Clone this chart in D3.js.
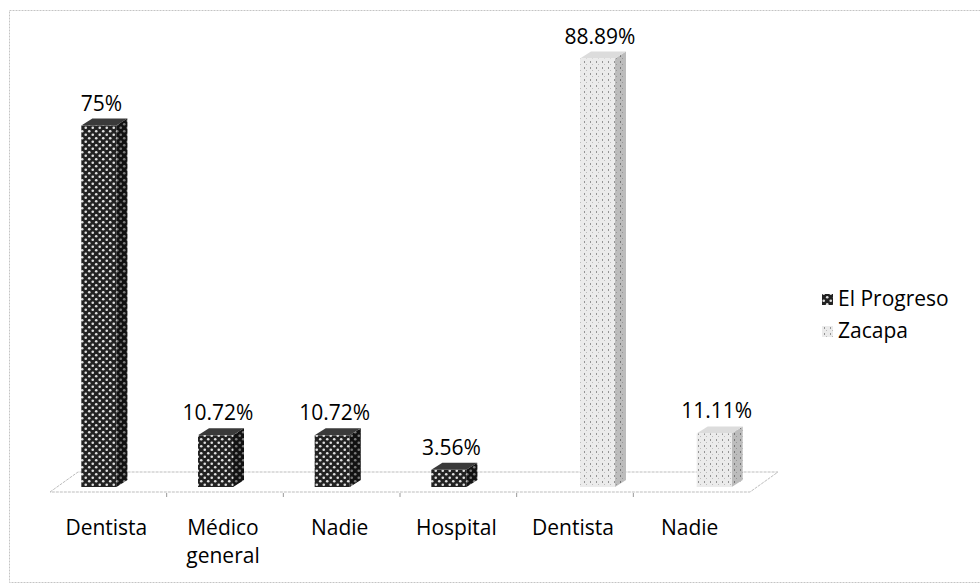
<!DOCTYPE html>
<html>
<head>
<meta charset="utf-8">
<script src="https://cdn.jsdelivr.net/npm/d3@7"></script>
<style>
  body { margin: 0; background: #fff; }
  text { font-family: "Open Sans", sans-serif; fill: #000; }
</style>
</head>
<body>
<script>
// data
const categories = ["Dentista", "Médico general", "Nadie", "Hospital", "Dentista", "Nadie"];
const seriesOf = ["El Progreso", "El Progreso", "El Progreso", "El Progreso", "Zacapa", "Zacapa"];
const values = [75, 10.72, 10.72, 3.56, 88.89, 11.11];
const seriesNames = ["El Progreso", "Zacapa"];

const width = 980, height = 586;
const depth = { dx: 11, dy: -7 };      // bar depth
const floorDepth = { dx: 28, dy: -20 }; // floor depth

const svg = d3.select("body").append("svg")
  .attr("width", width)
  .attr("height", height);

const defs = svg.append("defs");

// dark dotted pattern
const p1 = defs.append("pattern").attr("id", "pat-prog")
  .attr("patternUnits", "userSpaceOnUse").attr("width", 7).attr("height", 7);
p1.append("rect").attr("width", 7).attr("height", 7).attr("fill", "#222");
p1.append("circle").attr("cx", 1.75).attr("cy", 1.75).attr("r", 1.3).attr("fill", "#e0e0e0");
p1.append("circle").attr("cx", 5.25).attr("cy", 5.25).attr("r", 1.3).attr("fill", "#e0e0e0");

// light dashed pattern
const p2 = defs.append("pattern").attr("id", "pat-zac")
  .attr("patternUnits", "userSpaceOnUse").attr("width", 6).attr("height", 6);
p2.append("rect").attr("width", 6).attr("height", 6).attr("fill", "#ebebeb");
p2.append("rect").attr("x", 2).attr("y", 1).attr("width", 1).attr("height", 2).attr("fill", "#949494");
p2.append("rect").attr("x", 4).attr("y", 4).attr("width", 1).attr("height", 1).attr("fill", "#bcbcbc");

const fills = {
  "El Progreso": { front: "url(#pat-prog)", shade: "rgba(0,0,0,0.45)", top: "#3a3a3a" },
  "Zacapa": { front: "url(#pat-zac)", shade: "rgba(0,0,0,0.2)", top: "#dcdcdc" }
};

// chart border
svg.append("rect")
  .attr("x", 9.5).attr("y", 10.5)
  .attr("width", 985).attr("height", 572)
  .attr("fill", "none")
  .attr("stroke", "#c4c4c4")
  .attr("stroke-dasharray", "2,1");

const x = d3.scaleBand()
  .domain(d3.range(categories.length))
  .range([50, 750])
  .padding(0);

const y = d3.scaleLinear()
  .domain([0, 100])
  .range([487, 5]);

// series offset from the category centre
const xSeries = d3.scaleOrdinal().domain(seriesNames).range([-4, 28]);
const barW = 35;

// floor
const fl = x.range()[0], fr = x.range()[1], fy = 492;
const floor = svg.append("g").attr("stroke", "#bdbdbd").attr("fill", "none");
floor.append("path")
  .attr("d", `M${fl},${fy}L${fl + floorDepth.dx},${fy + floorDepth.dy}L${fr + floorDepth.dx},${fy + floorDepth.dy}L${fr},${fy}Z`)
  .attr("fill", "#fff")
  .attr("stroke-dasharray", "3,1");

// tick marks on the front edge
floor.selectAll("line.tick")
  .data(d3.range(1, categories.length))
  .join("line")
  .attr("class", "tick")
  .attr("x1", (d) => x(d)).attr("x2", (d) => x(d))
  .attr("y1", fy + 1).attr("y2", fy + 5)
  .attr("stroke", "#999");

const data = categories.map((c, i) => ({
  i, cat: c, series: seriesOf[i], value: values[i]
}));

const bars = svg.append("g").selectAll("g.bar")
  .data(data)
  .join("g")
  .attr("class", "bar");

function barX(d) {
  return x(d.i) + x.bandwidth() / 2 + xSeries(d.series) - (barW + depth.dx) / 2;
}

// each bar: side face, top face, front face
bars.each(function (d) {
  const g = d3.select(this);
  const x0 = barX(d), x1 = x0 + barW;
  const yt = y(d.value), yb = y(0);
  const side = `M${x1},${yb}L${x1},${yt}L${x1 + depth.dx},${yt + depth.dy}L${x1 + depth.dx},${yb + depth.dy}Z`;
  const top = `M${x0},${yt}L${x0 + depth.dx},${yt + depth.dy}L${x1 + depth.dx},${yt + depth.dy}L${x1},${yt}Z`;
  g.append("path").attr("d", side).attr("fill", fills[d.series].front);
  g.append("path").attr("d", side).attr("fill", fills[d.series].shade);
  g.append("path").attr("d", top).attr("fill", fills[d.series].top);
  g.append("rect")
    .attr("x", x0).attr("y", yt)
    .attr("width", barW).attr("height", yb - yt)
    .attr("fill", fills[d.series].front);
});

// value labels
svg.append("g").selectAll("text")
  .data(data)
  .join("text")
  .attr("x", (d) => barX(d) + (barW + depth.dx) / 2 - 3)
  .attr("y", (d) => y(d.value) + depth.dy - 8)
  .attr("text-anchor", "middle")
  .style("font-size", "21px")
  .text((d) => d.value + "%");

// category labels
const catLabels = svg.append("g").selectAll("text")
  .data(data)
  .join("text")
  .attr("text-anchor", "middle")
  .style("font-size", "21px");

catLabels.each(function (d) {
  const t = d3.select(this);
  d.cat.split(" ").forEach((w, k) => {
    t.append("tspan")
      .attr("x", x(d.i) + x.bandwidth() / 2 - 2)
      .attr("y", 535 + k * 28)
      .text(w);
  });
});

// legend
const legend = svg.append("g").attr("transform", "translate(822,0)");
const legendY = d3.scalePoint().domain(seriesNames).range([306, 338]);
const li = legend.selectAll("g")
  .data(seriesNames)
  .join("g")
  .attr("transform", (d) => `translate(0,${legendY(d)})`);
li.append("rect")
  .attr("x", 0).attr("y", -12)
  .attr("width", 11).attr("height", 11)
  .attr("fill", (d) => fills[d].front);
li.append("text")
  .attr("x", 16)
  .attr("y", 0)
  .style("font-size", "21px")
  .text((d) => d);
</script>
</body>
</html>
